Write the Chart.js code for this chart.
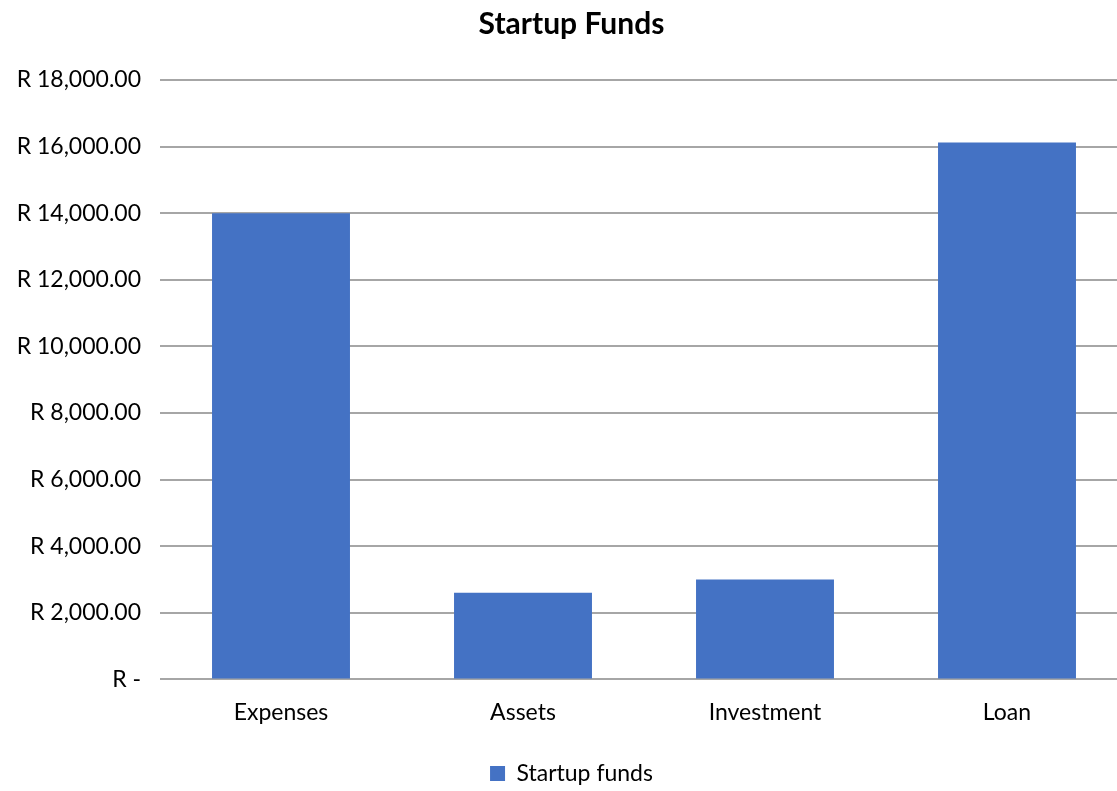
<!DOCTYPE html>
<html>
<head>
<meta charset="utf-8">
<script src="https://cdn.jsdelivr.net/npm/chart.js@4"></script>
<style>
  html, body { margin: 0; padding: 0; background: #ffffff; overflow: hidden; }
  #wrap { position: relative; width: 1130px; height: 791px; }
</style>
</head>
<body>
<div id="wrap"><canvas id="c"></canvas></div>
<script>
// Startup funding breakdown (Rand)
const categories = ['Expenses', 'Assets', 'Investment', 'Loan'];
const startupFunds = [14000, 2600, 3000, 16120];
const seriesName = 'Startup funds';
const chartTitle = 'Startup Funds';
const yTicks = [0, 2000, 4000, 6000, 8000, 10000, 12000, 14000, 16000, 18000];

const FONT = 'Lato, "Open Sans", sans-serif';

function randLabel(v) {
  if (v === 0) return 'R -';
  return 'R ' + v.toLocaleString('en-US', { minimumFractionDigits: 2, maximumFractionDigits: 2 });
}

new Chart(document.getElementById('c'), {
  type: 'bar',
  data: {
    labels: categories,
    datasets: [{
      label: seriesName,
      data: startupFunds,
      backgroundColor: '#4472C4',
      borderWidth: 0,
      categoryPercentage: 1.0,
      barPercentage: 0.57
    }]
  },
  options: {
    responsive: true,
    maintainAspectRatio: false,
    animation: false,
    layout: { padding: { left: 15, right: 2, top: 6, bottom: -4 } },
    plugins: {
      title: {
        display: true,
        text: chartTitle,
        color: '#000000',
        font: { family: FONT, size: 30, weight: 'bold' },
        padding: { top: 0, bottom: 38 }
      },
      legend: {
        display: true,
        position: 'bottom',
        labels: {
          color: '#000000',
          font: { family: FONT, size: 23 },
          boxWidth: 15,
          boxHeight: 15,
          padding: 8
        }
      },
      tooltip: { enabled: false }
    },
    scales: {
      x: {
        afterFit: (axis) => { axis.height += 9; },
        grid: { display: false, drawTicks: false },
        border: { display: false },
        ticks: {
          color: '#000000',
          font: { family: FONT, size: 23 },
          padding: 19
        }
      },
      y: {
        min: 0,
        max: 18000,
        afterBuildTicks: (axis) => { axis.ticks = yTicks.map(v => ({ value: v })); },
        afterFit: (axis) => { axis.width = 145; },
        grid: { color: '#a6a6a6', lineWidth: 2, drawTicks: false },
        border: { display: false },
        ticks: {
          color: '#000000',
          font: { family: FONT, size: 23 },
          padding: 19,
          callback: (v) => randLabel(v)
        }
      }
    }
  }
});
</script>
</body>
</html>
